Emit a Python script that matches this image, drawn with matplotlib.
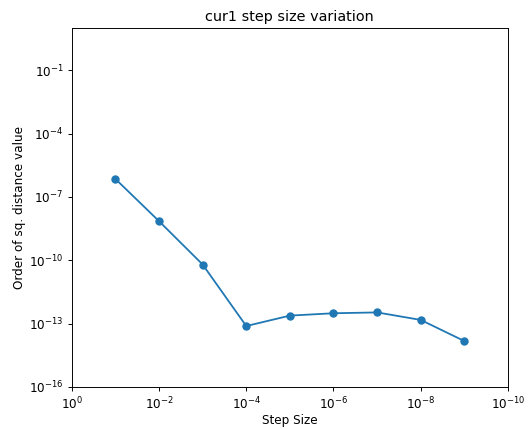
import matplotlib
matplotlib.use("Agg")
import matplotlib.pyplot as plt
import numpy as np

# step sizes and the resulting squared distance
step_sizes = [1e-1, 1e-2, 1e-3, 1e-4, 1e-5, 1e-6, 1e-7, 1e-8, 1e-9]
sq_dist = [7.1e-7, 7.1e-9, 6.3e-11, 7.7e-14, 2.4e-13, 3.1e-13, 3.4e-13, 1.5e-13, 1.5e-14]

# reference looks like a downscaled render, so use a lower dpi
dpi = 86
fig, ax = plt.subplots(figsize=(528 / dpi, 430 / dpi), dpi=dpi)
fig.subplots_adjust(left=0.136, right=0.962, top=0.935, bottom=0.1)

ax.plot(step_sizes, sq_dist, marker="o", color="tab:blue")
ax.set_xscale("log")
ax.set_yscale("log")
ax.set_xlim(1e0, 1e-10)
ax.set_ylim(1e-16, 1e1)
ax.set_yticks([1e-16, 1e-13, 1e-10, 1e-7, 1e-4, 1e-1])
ax.set_xticks([1e0, 1e-2, 1e-4, 1e-6, 1e-8, 1e-10])
ax.minorticks_off()

ax.set_title("cur1 step size variation")
ax.set_xlabel("Step Size", labelpad=2)
ax.set_ylabel("Order of sq. distance value", labelpad=2)

fig.savefig("out.png", dpi=dpi)
plt.close()
